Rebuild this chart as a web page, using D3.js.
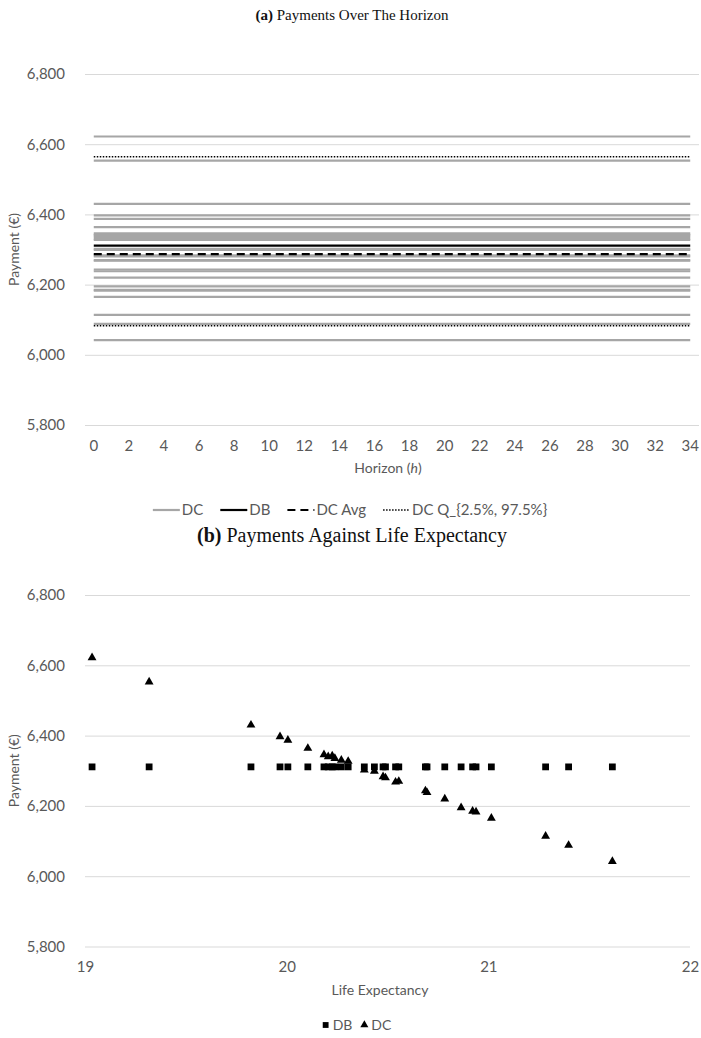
<!DOCTYPE html>
<html>
<head>
<meta charset="utf-8">
<script src="https://cdn.jsdelivr.net/npm/d3@7"></script>
<style>
  html, body { margin: 0; padding: 0; background: #fff; }
  svg { display: block; }
</style>
</head>
<body>
<svg id="chart" width="701" height="1038"></svg>
<script>
// Horizon categories (years 0..34)
const horizon = d3.range(0, 35);
const horizonTickLabels = d3.range(0, 35, 2);

// Level DC payment per scenario, ordered by the scenario's life expectancy
const lifeExpectancy = [19.035, 19.318, 19.823, 19.967, 20.006, 20.105, 20.185, 20.206,
  20.226, 20.239, 20.271, 20.305, 20.385, 20.435, 20.478, 20.490, 20.540, 20.556,
  20.688, 20.696, 20.784, 20.865, 20.922, 20.939, 21.015, 21.284, 21.398, 21.615];
const dcPayments = [6622, 6553, 6430, 6397, 6387, 6364, 6346, 6340,
  6342, 6335, 6330, 6327, 6302, 6299, 6283, 6280, 6268, 6270,
  6243, 6238, 6220, 6195, 6185, 6183, 6165, 6114, 6088, 6042];

// DB payment (same in every scenario) and DC summary levels
const dbPayment = 6311;
const dcAverage = 6287;
const dcQuantiles = [6083, 6564];   // 2.5% and 97.5%

const paymentTicks = [5800, 6000, 6200, 6400, 6600, 6800];
const lifeTicks = [19, 20, 21, 22];

const svg = d3.select("#chart");
const fmt = d3.format(",");
const sansFont = "Lato, 'Open Sans', sans-serif";
const serifFont = "'Liberation Serif', 'Times New Roman', serif";
const axisGrey = "#595959";
const gridGrey = "#d9d9d9";

function styleAxisText(g, size) {
  g.selectAll("text").attr("font-family", sansFont).attr("font-size", size).attr("fill", axisGrey);
}

// ---------- (a) Payments over the horizon ----------
const A = { left: 85, right: 699, top: 74, bottom: 425 };

svg.append("text")
  .attr("x", 352).attr("y", 20)
  .attr("text-anchor", "middle")
  .attr("font-family", serifFont).attr("font-size", 15).attr("fill", "#111")
  .call(t => {
    t.append("tspan").attr("font-weight", "bold").text("(a)");
    t.append("tspan").text(" Payments Over The Horizon");
  });

const xA = d3.scaleBand().domain(horizon).range([A.left, A.right]);
const yA = d3.scaleLinear().domain([5800, 6800]).range([A.bottom, A.top]);

svg.append("g")
  .attr("transform", `translate(${A.left},0)`)
  .call(d3.axisLeft(yA).tickValues(paymentTicks).tickFormat(fmt)
    .tickSize(-(A.right - A.left)).tickPadding(20))
  .call(g => g.select(".domain").remove())
  .call(g => g.selectAll(".tick line").attr("stroke", gridGrey).attr("stroke-width", 1))
  .call(g => styleAxisText(g, 15));

svg.append("g")
  .attr("transform", `translate(0,${A.bottom})`)
  .call(d3.axisBottom(xA).tickValues(horizonTickLabels).tickSize(0).tickPadding(15))
  .call(g => g.select(".domain").remove())
  .call(g => styleAxisText(g, 15));

svg.append("text")
  .attr("x", 388).attr("y", 473)
  .attr("text-anchor", "middle")
  .attr("font-family", sansFont).attr("font-size", 14).attr("fill", axisGrey)
  .call(t => {
    t.append("tspan").text("Horizon (");
    t.append("tspan").attr("font-style", "italic").text("h");
    t.append("tspan").text(")");
  });

svg.append("text")
  .attr("transform", `translate(19,${(A.top + A.bottom) / 2}) rotate(-90)`)
  .attr("text-anchor", "middle")
  .attr("font-family", sansFont).attr("font-size", 14).attr("fill", axisGrey)
  .text("Payment (€)");

const lineA = d3.line().x(h => xA(h) + xA.bandwidth() / 2);
const plotA = svg.append("g");

// one flat line per DC scenario
plotA.selectAll("path.dc").data(dcPayments).join("path")
  .attr("class", "dc")
  .attr("fill", "none").attr("stroke", "#a6a6a6").attr("stroke-width", 2.2)
  .attr("d", v => lineA.y(() => yA(v))(horizon));

plotA.append("path")
  .attr("fill", "none").attr("stroke", "#000").attr("stroke-width", 2.2)
  .attr("d", lineA.y(() => yA(dbPayment))(horizon));

plotA.append("path")
  .attr("fill", "none").attr("stroke", "#000").attr("stroke-width", 2.2)
  .attr("stroke-dasharray", "8,5")
  .attr("d", lineA.y(() => yA(dcAverage))(horizon));

plotA.selectAll("path.q").data(dcQuantiles).join("path")
  .attr("class", "q")
  .attr("fill", "none").attr("stroke", "#000").attr("stroke-width", 1.5)
  .attr("stroke-dasharray", "1.5,1.5")
  .attr("d", v => lineA.y(() => yA(v))(horizon));

// legend (a)
const legA = [
  { label: "DC", stroke: "#a6a6a6", dash: null, w: 2.2 },
  { label: "DB", stroke: "#000", dash: null, w: 2.2 },
  { label: "DC Avg", stroke: "#000", dash: "8,5", w: 2.2 },
  { label: "DC Q_{2.5%, 97.5%}", stroke: "#000", dash: "1.5,1.5", w: 1.5 }
];
const legAg = svg.append("g");
let lx = 0;
legAg.selectAll("g").data(legA).join("g").each(function (d) {
  const g = d3.select(this).attr("transform", `translate(${lx},0)`);
  g.append("line").attr("x1", 0).attr("x2", 27).attr("y1", 0).attr("y2", 0)
    .attr("stroke", d.stroke).attr("stroke-width", d.w)
    .attr("stroke-dasharray", d.dash);
  const t = g.append("text").attr("x", 29).attr("y", 5)
    .attr("font-family", sansFont).attr("font-size", 15).attr("fill", axisGrey)
    .text(d.label);
  lx += 29 + t.node().getComputedTextLength() + 17;
});
const legAWidth = lx - 17;
legAg.attr("transform", `translate(${350 - legAWidth / 2},510)`);

// ---------- (b) Payments against life expectancy ----------
const B = { left: 85, right: 690, top: 595, bottom: 946.5 };

svg.append("text")
  .attr("x", 352).attr("y", 542)
  .attr("text-anchor", "middle")
  .attr("font-family", serifFont).attr("font-size", 20).attr("fill", "#111")
  .call(t => {
    t.append("tspan").attr("font-weight", "bold").text("(b)");
    t.append("tspan").text(" Payments Against Life Expectancy");
  });

const xB = d3.scaleLinear().domain([19, 22]).range([B.left, B.right]);
const yB = d3.scaleLinear().domain([5800, 6800]).range([B.bottom, B.top]);

svg.append("g")
  .attr("transform", `translate(${B.left},0)`)
  .call(d3.axisLeft(yB).tickValues(paymentTicks).tickFormat(fmt)
    .tickSize(-(B.right - B.left)).tickPadding(20))
  .call(g => g.select(".domain").remove())
  .call(g => g.selectAll(".tick line").attr("stroke", gridGrey).attr("stroke-width", 1))
  .call(g => styleAxisText(g, 15));

svg.append("g")
  .attr("transform", `translate(0,${B.bottom})`)
  .call(d3.axisBottom(xB).tickValues(lifeTicks).tickFormat(d3.format("d")).tickSize(0).tickPadding(15))
  .call(g => g.select(".domain").remove())
  .call(g => styleAxisText(g, 15));

svg.append("text")
  .attr("x", 380).attr("y", 995)
  .attr("text-anchor", "middle")
  .attr("font-family", sansFont).attr("font-size", 14).attr("fill", axisGrey)
  .text("Life Expectancy");

svg.append("text")
  .attr("transform", `translate(19,${(B.top + B.bottom) / 2}) rotate(-90)`)
  .attr("text-anchor", "middle")
  .attr("font-family", sansFont).attr("font-size", 14).attr("fill", axisGrey)
  .text("Payment (€)");

const square = d3.symbol().type(d3.symbolSquare).size(46);
const triangle = d3.symbol().type(d3.symbolTriangle).size(34);
const plotB = svg.append("g");

plotB.selectAll("path.db").data(lifeExpectancy).join("path")
  .attr("class", "db")
  .attr("transform", le => `translate(${xB(le)},${yB(dbPayment)})`)
  .attr("d", square()).attr("fill", "#000");

plotB.selectAll("path.dcpt").data(lifeExpectancy).join("path")
  .attr("class", "dcpt")
  .attr("transform", (le, i) => `translate(${xB(le)},${yB(dcPayments[i])})`)
  .attr("d", triangle()).attr("fill", "#000");

// legend (b)
const legBg = svg.append("g");
const sq = legBg.append("path").attr("d", d3.symbol().type(d3.symbolSquare).size(34)()).attr("fill", "#000");
const tDB = legBg.append("text").attr("font-family", sansFont).attr("font-size", 14).attr("fill", axisGrey).text("DB");
const tri = legBg.append("path").attr("d", d3.symbol().type(d3.symbolTriangle).size(28)()).attr("fill", "#000");
const tDC = legBg.append("text").attr("font-family", sansFont).attr("font-size", 14).attr("fill", axisGrey).text("DC");
let bx = 0;
sq.attr("transform", `translate(${bx + 3},-1)`); bx += 10;
tDB.attr("x", bx).attr("y", 4); bx += tDB.node().getComputedTextLength() + 9;
tri.attr("transform", `translate(${bx + 3},-1)`); bx += 10;
tDC.attr("x", bx).attr("y", 4); bx += tDC.node().getComputedTextLength();
legBg.attr("transform", `translate(${357 - bx / 2},1026)`);
</script>
</body>
</html>
